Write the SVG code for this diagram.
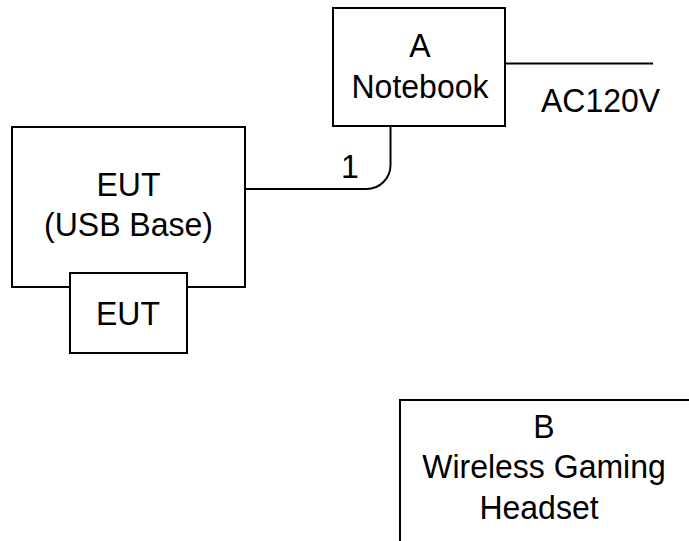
<svg xmlns="http://www.w3.org/2000/svg" width="689" height="541" viewBox="0 0 689 541">
<style>
.box{fill:#fff;stroke:#000;stroke-width:2}
.ln{fill:none;stroke:#000;stroke-width:2}
text{font-family:"Liberation Sans",Arial,sans-serif;font-size:33.5px;fill:#000}
.c{text-anchor:middle}
</style>
<rect width="689" height="541" fill="#fff"/>
<g id="connectors">
<path class="ln" d="M390.5,126 V165 A24,24 0 0 1 366.5,189 H245"/>
<text x="341" y="178" textLength="17.8" lengthAdjust="spacingAndGlyphs">1</text>
<path class="ln" d="M505,63.5 H653"/>
<text x="541" y="112" textLength="119" lengthAdjust="spacingAndGlyphs">AC120V</text>
</g>
<g id="notebook">
<rect class="box" x="333" y="8" width="172" height="118"/>
<text class="c" x="420" y="57" textLength="21.3" lengthAdjust="spacingAndGlyphs">A</text>
<text class="c" x="420" y="98" textLength="137" lengthAdjust="spacingAndGlyphs">Notebook</text>
</g>
<g id="eut-base">
<rect class="box" x="12" y="127" width="233" height="160"/>
<text class="c" x="128.5" y="196" textLength="64" lengthAdjust="spacingAndGlyphs">EUT</text>
<text class="c" x="128.5" y="236" textLength="169" lengthAdjust="spacingAndGlyphs">(USB Base)</text>
</g>
<g id="eut">
<rect class="box" x="70" y="273" width="117" height="80"/>
<text class="c" x="128" y="325" textLength="64" lengthAdjust="spacingAndGlyphs">EUT</text>
</g>
<g id="headset">
<rect class="box" x="400" y="400" width="320" height="200"/>
<text class="c" x="544" y="438" textLength="21.3" lengthAdjust="spacingAndGlyphs">B</text>
<text class="c" x="544" y="478" textLength="243.6" lengthAdjust="spacingAndGlyphs">Wireless Gaming</text>
<text class="c" x="539" y="519" textLength="119.2" lengthAdjust="spacingAndGlyphs">Headset</text>
</g>
</svg>
